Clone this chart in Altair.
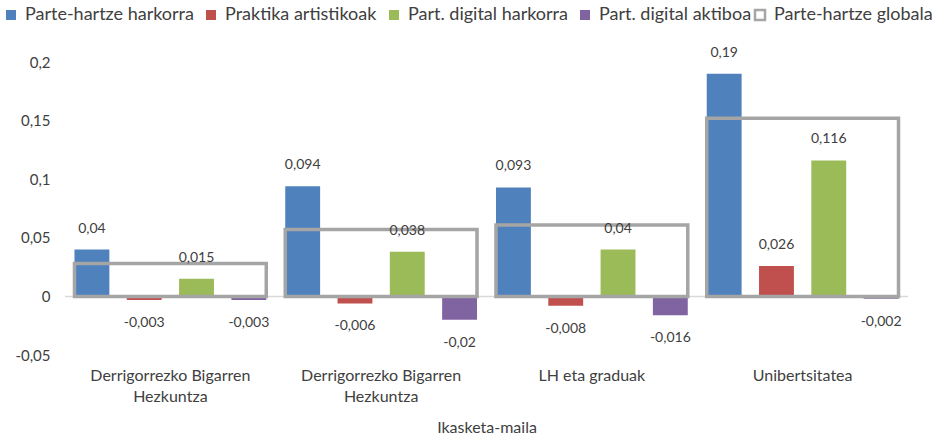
import textwrap

import altair as alt
import pandas as pd

# Education levels (two share the same printed name) and the plotted series
groups = [
    "Derrigorrezko Bigarren Hezkuntza",
    "Derrigorrezko Bigarren Hezkuntza",
    "LH eta graduak",
    "Unibertsitatea",
]
series = [
    "Parte-hartze harkorra",
    "Praktika artistikoak",
    "Part. digital harkorra",
    "Part. digital aktiboa",
]
harkorra = [0.04, 0.094, 0.093, 0.19]
artistikoak = [-0.003, -0.006, -0.008, 0.026]
digital_harkorra = [0.015, 0.038, 0.04, 0.116]
digital_aktiboa = [-0.003, -0.02, -0.016, -0.002]

global_name = "Parte-hartze globala"
globala = [0.028, 0.057, 0.061, 0.152]

colors = ["#4F81BD", "#C0504D", "#9BBB59", "#8064A2"]
global_color = "#A5A5A5"
y_ticks = [-0.05, 0, 0.05, 0.1, 0.15, 0.2]
x_title = "Ikasketa-maila"

FONT = "Lato"
TEXT = "#404040"

# Unique keys per group; label lines are separated by "|"
keys = [f"{i}|" + "|".join(textwrap.wrap(g, 22)) for i, g in enumerate(groups)]

rows = []
for name, vals in zip(series, [harkorra, artistikoak, digital_harkorra, digital_aktiboa]):
    for k, v in zip(keys, vals):
        rows.append({"key": k, "series": name, "value": v})
bars_df = pd.DataFrame(rows)
global_df = pd.DataFrame({"key": keys, "series": global_name, "value": globala})

x_enc = alt.X(
    "key:N",
    sort=keys,
    scale=alt.Scale(paddingInner=0.09, paddingOuter=0.045),
    axis=alt.Axis(
        title=x_title,
        labelExpr="slice(split(datum.label, '|'), 1)",
        labelAngle=0,
        labelFont=FONT,
        labelFontSize=16,
        labelColor=TEXT,
        labelLineHeight=21,
        labelPadding=12,
        labelBaseline="top",
        titleFont=FONT,
        titleFontSize=16,
        titleFontWeight="normal",
        titleColor=TEXT,
        titlePadding=15,
        domain=False,
        ticks=False,
        grid=False,
    ),
)
y_enc = alt.Y(
    "value:Q",
    scale=alt.Scale(domain=[-0.05, 0.2], nice=False),
    axis=alt.Axis(
        title=None,
        values=y_ticks,
        format=".2~f",
        labelFont=FONT,
        labelFontSize=15,
        labelColor=TEXT,
        labelPadding=15,
        domain=False,
        ticks=False,
        grid=False,
    ),
)

legend_common = dict(
    title=None,
    orient="none",
    direction="horizontal",
    symbolType="square",
    symbolSize=100,
    labelFont=FONT,
    labelFontSize=18,
    labelColor=TEXT,
    labelOffset=5,
    labelLimit=400,
    columnPadding=8,
    padding=0,
)

color_enc = alt.Color(
    "series:N",
    scale=alt.Scale(domain=series, range=colors),
    legend=alt.Legend(legendX=-63, legendY=-56, columns=4, **legend_common),
)

stroke_enc = alt.Stroke(
    "series:N",
    scale=alt.Scale(domain=[global_name], range=[global_color]),
    legend=alt.Legend(
        legendX=686,
        legendY=-56,
        symbolStrokeWidth=2.5,
        symbolFillColor="#ffffff",
        **legend_common,
    ),
)

zero_line = (
    alt.Chart(pd.DataFrame({"v": [0]}))
    .mark_rule(color="#D9D9D9", strokeWidth=1.5)
    .encode(y=alt.Y("v:Q"))
)

bars = (
    alt.Chart(bars_df)
    .mark_bar()
    .encode(
        x=x_enc,
        xOffset=alt.XOffset(
            "series:N", sort=series, scale=alt.Scale(paddingInner=0.333, paddingOuter=0)
        ),
        y=y_enc,
        y2=alt.datum(0),
        color=color_enc,
    )
)

outline = (
    alt.Chart(global_df)
    .mark_bar(filled=False, strokeWidth=3.5, opacity=1)
    .encode(x=alt.X("key:N", sort=keys), y=alt.Y("value:Q"), y2=alt.datum(0), stroke=stroke_enc)
)

label_base = alt.Chart(bars_df).encode(
    x=alt.X("key:N", sort=keys),
    xOffset=alt.XOffset("series:N", sort=series),
    y=alt.Y("value:Q"),
    text=alt.Text("value:Q", format=".3~f"),
)
pos_labels = label_base.transform_filter("datum.value >= 0").mark_text(
    font=FONT, fontSize=14, color=TEXT, dy=-21
)
neg_labels = label_base.transform_filter("datum.value < 0").mark_text(
    font=FONT, fontSize=14, color=TEXT, dy=23
)

chart = (
    alt.layer(zero_line, bars, outline, pos_labels, neg_labels)
    .properties(
        width=843,
        height=293,
        autosize=alt.AutoSizeParams(type="none"),
        padding={"left": 65, "top": 62, "right": 24, "bottom": 85},
        background="#ffffff",
    )
    .configure(
        locale={
            "number": {
                "decimal": ",",
                "thousands": ".",
                "grouping": [3],
                "currency": ["", " €"],
                "minus": "-",
            }
        }
    )
    .configure_view(stroke="transparent")
)

chart.save("out.html", embed_options={"renderer": "svg", "actions": False})
